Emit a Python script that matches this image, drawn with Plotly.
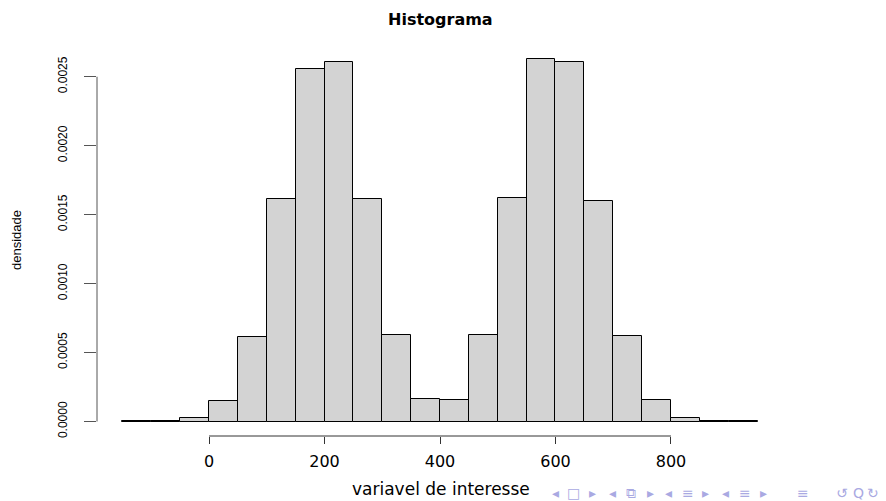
import plotly.graph_objects as go

# ---- data ----
bin_edges = list(range(-150, 951, 50))
densities = [0.000003, 0.000004, 0.000024, 0.000147, 0.000612, 0.001616,
             0.002559, 0.002607, 0.001612, 0.000624, 0.000165, 0.000157,
             0.000629, 0.001620, 0.002625, 0.002610, 0.001600, 0.000620,
             0.000155, 0.000022, 0.000003, 0.000004]
x_ticks = [0, 200, 400, 600, 800]
x_tick_labels = ["0", "200", "400", "600", "800"]
y_ticks = [0.0, 0.0005, 0.0010, 0.0015, 0.0020, 0.0025]
y_tick_labels = ["0.0000", "0.0005", "0.0010", "0.0015", "0.0020", "0.0025"]
title_text = "Histograma"
x_title = "variavel de interesse"
y_title = "densidade"
nav_symbols = ["◂", "□", "▸", "◂", "⧉", "▸", "◂", "≡", "▸", "◂", "≡", "▸", "≡", "↺", "Q", "↻"]

# ---- layout geometry (screen pixels; page body has an 8px margin) ----
OFF = 8
W, H = 886 - OFF, 501 - OFF
ML, MR, MT, MB = 97.4 - OFF, 103.1, 45.1 - OFF, 64.5
PW = W - ML - MR
PH = H - MT - MB

def px_x(p):
    return (p - OFF - ML) / PW

def px_y(p):
    return (H - MB - (p - OFF)) / PH

centers = [(a + b) / 2 for a, b in zip(bin_edges[:-1], bin_edges[1:])]
widths = [b - a for a, b in zip(bin_edges[:-1], bin_edges[1:])]

xspan = bin_edges[-1] - bin_edges[0]
xr = [bin_edges[0] - 0.04 * xspan, bin_edges[-1] + 0.04 * xspan]
ymax = max(densities)
yr = [-0.04 * ymax, ymax * 1.04]

fig = go.Figure(go.Bar(
    x=centers, y=densities, width=widths,
    marker=dict(color="#D3D3D3", line=dict(color="black", width=1)),
    hoverinfo="x+y",
))

fig.update_layout(
    width=W, height=H,
    margin=dict(l=ML, r=MR, t=MT, b=MB, pad=0),
    plot_bgcolor="white", paper_bgcolor="white",
    showlegend=False,
    bargap=0,
    xaxis=dict(range=xr, showgrid=False, zeroline=False, showline=False,
               tickmode="array", tickvals=x_ticks, ticktext=x_tick_labels,
               ticks="outside", ticklen=7, tickwidth=1, tickcolor="#333333",
               ticklabelstandoff=4,
               tickfont=dict(family="DejaVu Sans", size=16, color="black")),
    yaxis=dict(range=yr, showgrid=False, zeroline=False, showline=False,
               tickmode="array", tickvals=y_ticks, ticktext=y_tick_labels,
               ticks="outside", ticklen=12, tickwidth=1, tickcolor="#555555",
               tickangle=-90, ticklabelstandoff=12,
               tickfont=dict(family="Liberation Sans", size=12, color="black")),
)

# axis lines spanning the tick range only (R style)
fig.add_shape(type="line", xref="x", yref="paper", x0=min(x_ticks), x1=max(x_ticks),
              y0=0, y1=0, line=dict(color="#333333", width=1))
fig.add_shape(type="line", xref="paper", yref="y", x0=0, x1=0,
              y0=min(y_ticks), y1=max(y_ticks), line=dict(color="#555555", width=1))

annotations = [
    dict(text="<b>" + title_text + "</b>", xref="paper", yref="paper",
         x=0.5, y=px_y(OFF + 0.5), xanchor="center", yanchor="top", showarrow=False,
         font=dict(family="DejaVu Sans", size=16, color="black")),
    dict(text=x_title, xref="paper", yref="paper",
         x=px_x(441), y=px_y(490), xanchor="center", yanchor="middle", showarrow=False,
         font=dict(family="DejaVu Sans", size=17, color="black")),
    dict(text=y_title, xref="paper", yref="paper",
         x=px_x(17), y=0.5, xanchor="center", yanchor="middle", showarrow=False,
         textangle=-90,
         font=dict(family="Liberation Sans", size=13, color="black")),
]
nav_x = [556, 574, 593, 613, 631, 650, 668, 688, 705, 725, 745, 763, 803, 842, 858, 873]
for s, xp in zip(nav_symbols, nav_x):
    annotations.append(dict(text=s, xref="paper", yref="paper", x=px_x(xp), y=px_y(494),
                            xanchor="center", yanchor="middle", showarrow=False,
                            font=dict(family="DejaVu Sans", size=14, color="#a9a9e2")))
fig.update_layout(annotations=annotations)

fig.write_html("out.html")
